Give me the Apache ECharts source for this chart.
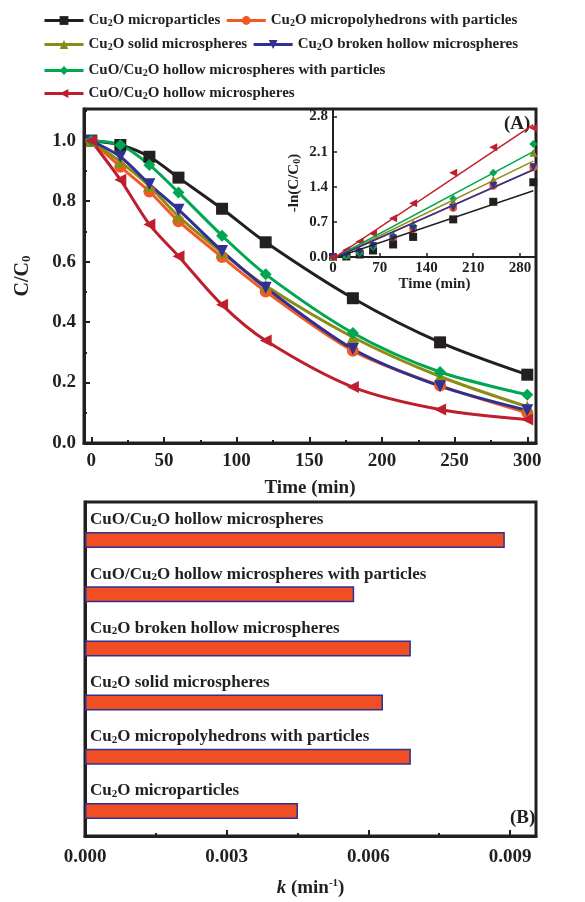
<!DOCTYPE html>
<html>
<head>
<meta charset="utf-8">
<script src="https://cdn.jsdelivr.net/npm/echarts@6/dist/echarts.min.js"></script>
<style>
  html, body { margin: 0; padding: 0; background: #fff; }
  #main { width: 585px; height: 902px; }
</style>
</head>
<body>
<div id="main"></div>
<script type="text/javascript">
// sampling times (min)
var times = [0, 20, 40, 60, 90, 120, 180, 240, 300];
var seriesNames = [
  'Cu2O microparticles',
  'Cu2O micropolyhedrons with particles',
  'Cu2O solid microspheres',
  'Cu2O broken hollow microspheres',
  'CuO/Cu2O hollow microspheres with particles',
  'CuO/Cu2O hollow microspheres'
];
// C/C0 curves
var ratioMicroparticles = [1.0, 0.986, 0.947, 0.878, 0.775, 0.664, 0.479, 0.333, 0.226];
var ratioPolyhedrons    = [1.0, 0.914, 0.832, 0.734, 0.615, 0.501, 0.305, 0.190, 0.100];
var ratioSolid          = [1.0, 0.930, 0.850, 0.750, 0.630, 0.520, 0.350, 0.220, 0.120];
var ratioBroken         = [1.0, 0.947, 0.856, 0.772, 0.635, 0.514, 0.311, 0.188, 0.108];
var ratioCuOParticles   = [1.0, 0.986, 0.920, 0.829, 0.686, 0.558, 0.364, 0.235, 0.160];
var ratioCuOHollow      = [1.0, 0.871, 0.723, 0.618, 0.457, 0.339, 0.185, 0.111, 0.078];
// inset: -ln(C/C0)
var lnMicroparticles = [0, 0.01, 0.05, 0.13, 0.25, 0.40, 0.75, 1.10, 1.49];
var lnPolyhedrons    = [0, 0.05, 0.10, 0.22, 0.37, 0.56, 0.98, 1.42, 1.79];
var lnSolid          = [0, 0.05, 0.13, 0.27, 0.46, 0.67, 1.10, 1.54, 2.08];
var lnBroken         = [0, 0.05, 0.10, 0.22, 0.37, 0.56, 0.98, 1.42, 1.79];
var lnCuOParticles   = [0, 0.02, 0.08, 0.20, 0.42, 0.62, 1.16, 1.68, 2.25];
var lnCuOHollow      = [0, 0.14, 0.31, 0.47, 0.77, 1.07, 1.68, 2.19, 2.57];
// linear fits, value at t=0 and t=300
var fitTimes = [0, 300];
var fitMicroparticles = [-0.03, 1.32];
var fitPolyhedrons    = [-0.03, 1.74];
var fitSolid          = [-0.03, 1.91];
var fitBroken         = [-0.03, 1.74];
var fitCuOParticles   = [-0.03, 2.10];
var fitCuOHollow      = [-0.03, 2.64];
// rate constants k (min-1), bottom to top
var kNames = [
  'Cu2O microparticles',
  'Cu2O micropolyhedrons with particles',
  'Cu2O solid microspheres',
  'Cu2O broken hollow microspheres',
  'CuO/Cu2O hollow microspheres with particles',
  'CuO/Cu2O hollow microspheres'
];
var kValues = [0.00451, 0.00690, 0.00631, 0.00690, 0.00570, 0.00889];

var FONT = "'Liberation Serif', 'Times New Roman', serif";
var INK = '#231f20';
var colors = ['#231f20', '#f15a24', '#8c8c14', '#2e3192', '#00a651', '#be1e2d'];
var symbols = ['rect', 'circle', 'triangle', 'triangle', 'diamond', 'triangle'];
var rotates = [0, 0, 0, 180, 0, 90];

function sub(name) {
  return name.replace('Cu2O', 'Cu{s|2}O');
}
function subStyle(size, pad) {
  return { fontSize: size, fontWeight: 'bold', fontFamily: FONT, color: INK, lineHeight: size, padding: [pad, 0, 0, 0], verticalAlign: 'bottom' };
}
function pairs(xs, ys) {
  return xs.map(function (x, i) { return [x, ys[i]]; });
}

var ratios = [ratioMicroparticles, ratioPolyhedrons, ratioSolid, ratioBroken, ratioCuOParticles, ratioCuOHollow];
var lns = [lnMicroparticles, lnPolyhedrons, lnSolid, lnBroken, lnCuOParticles, lnCuOHollow];
var fits = [fitMicroparticles, fitPolyhedrons, fitSolid, fitBroken, fitCuOParticles, fitCuOHollow];

var series = [];
seriesNames.forEach(function (n, i) {
  series.push({
    name: n, type: 'line', xAxisIndex: 0, yAxisIndex: 0,
    data: pairs(times, ratios[i]), smooth: 0.3,
    symbol: symbols[i], symbolSize: 12, symbolRotate: rotates[i],
    lineStyle: { width: 3, color: colors[i] }, itemStyle: { color: colors[i] }
  });
});
// inset: orange drawn first so it sits underneath
var insetOrder = [1, 0, 2, 4, 3, 5];
insetOrder.forEach(function (i) {
  series.push({
    name: seriesNames[i] + ' fit', type: 'line', xAxisIndex: 2, yAxisIndex: 1,
    data: pairs(fitTimes, fits[i]), showSymbol: false,
    lineStyle: { width: 1.5, color: colors[i] }, itemStyle: { color: colors[i] }
  });
  series.push({
    name: seriesNames[i] + ' ln', type: 'scatter', xAxisIndex: 2, yAxisIndex: 1,
    data: pairs(times, lns[i]), symbol: symbols[i], symbolSize: 8, symbolRotate: rotates[i],
    itemStyle: { color: colors[i], opacity: 1 }
  });
});
series.push({
  name: 'k', type: 'bar', xAxisIndex: 4, yAxisIndex: 3,
  data: kValues, barWidth: 16,
  itemStyle: { color: '#f04e23', borderColor: '#2e3192', borderWidth: 1.5 },
  label: {
    show: true, position: 'insideLeft', distance: 5, offset: [0, -20],
    formatter: function (p) { return sub(p.name); },
    fontFamily: FONT, fontWeight: 'bold', fontSize: 17, color: INK, lineHeight: 17,
    rich: { s: subStyle(11, 9) }
  }
});

var legendText = {
  fontFamily: FONT, fontWeight: 'bold', fontSize: 15, color: INK, lineHeight: 15,
  rich: { s: subStyle(10, 8) }
};
function legendRow(names, top) {
  return {
    data: names, left: 43, top: top, orient: 'horizontal', padding: 0,
    itemGap: 5, itemWidth: 39, itemHeight: 11, selectedMode: false,
    lineStyle: { width: 3 },
    formatter: sub, textStyle: legendText
  };
}

var labelFont = { fontFamily: FONT, fontWeight: 'bold', color: INK };
var bigLabel = Object.assign({ fontSize: 19 }, labelFont);
var smallLabel = Object.assign({ fontSize: 15 }, labelFont);

var option = {
  animation: false,
  backgroundColor: '#fff',
  legend: [
    legendRow([seriesNames[0], seriesNames[1]], 10),
    legendRow([seriesNames[2], seriesNames[3]], 34),
    legendRow([seriesNames[4]], 60),
    legendRow([seriesNames[5]], 83)
  ],
  grid: [
    { left: 84, right: 49, top: 109, bottom: 459, show: true, borderWidth: 3, borderColor: INK },
    { left: 333, right: 49, top: 109, bottom: 645 },
    { left: 85, right: 49, top: 502, bottom: 66, show: true, borderWidth: 3, borderColor: INK },
    { left: 85, right: 49, top: 513, bottom: 64 }
  ],
  xAxis: [
    { gridIndex: 0, type: 'value', min: -5, max: 306, position: 'bottom',
      axisLine: { onZero: false, lineStyle: { color: INK, width: 3 } },
      axisTick: { inside: true, length: 6, lineStyle: { width: 2, color: INK }, customValues: [0, 50, 100, 150, 200, 250, 300] },
      axisLabel: Object.assign({ margin: 9, customValues: [0, 50, 100, 150, 200, 250, 300] }, bigLabel),
      splitLine: { show: false },
      name: 'Time (min)', nameLocation: 'middle', nameGap: 36,
      nameTextStyle: Object.assign({ fontSize: 19 }, labelFont) },
    { gridIndex: 0, type: 'value', min: -5, max: 306, position: 'bottom',
      axisLine: { show: false, onZero: false },
      axisTick: { inside: true, length: 3, lineStyle: { width: 2, color: INK }, customValues: [25, 75, 125, 175, 225, 275] },
      axisLabel: { show: false }, splitLine: { show: false } },
    { gridIndex: 1, type: 'value', min: 0, max: 304, interval: 70, position: 'bottom',
      axisLine: { onZero: false, lineStyle: { color: INK, width: 2 } },
      axisTick: { inside: true, length: 4, lineStyle: { width: 1.5, color: INK } },
      axisLabel: Object.assign({ margin: 4, showMaxLabel: false }, smallLabel),
      splitLine: { show: false },
      name: 'Time (min)', nameLocation: 'middle', nameGap: 19,
      nameTextStyle: Object.assign({ fontSize: 15 }, labelFont) },
    { gridIndex: 2, type: 'value', min: 0, max: 0.00955, interval: 0.003, position: 'bottom',
      axisLine: { onZero: false, lineStyle: { color: INK, width: 3 } },
      axisTick: { inside: true, length: 6, lineStyle: { width: 2, color: INK } },
      minorTick: { show: true, splitNumber: 2, length: 3, lineStyle: { width: 2, color: INK } },
      axisLabel: Object.assign({ margin: 12, showMaxLabel: false, formatter: function (v) { return v.toFixed(3); } }, bigLabel),
      splitLine: { show: false },
      name: '{i|k} (min{p|-1})', nameLocation: 'middle', nameGap: 42,
      nameTextStyle: Object.assign({ fontSize: 19, lineHeight: 20, rich: {
        i: { fontFamily: FONT, fontWeight: 'bold', fontStyle: 'italic', fontSize: 19, color: INK, lineHeight: 20 },
        p: { fontFamily: FONT, fontWeight: 'bold', fontSize: 11, color: INK, lineHeight: 11, verticalAlign: 'top' }
      } }, labelFont) },
    { gridIndex: 3, type: 'value', min: 0, max: 0.00955, show: false }
  ],
  yAxis: [
    { gridIndex: 0, type: 'value', min: 0, max: 1.105, interval: 0.2,
      axisLine: { show: true, onZero: false, lineStyle: { color: INK, width: 3 } },
      axisTick: { show: true, inside: true, length: 6, lineStyle: { width: 2, color: INK } },
      minorTick: { show: true, splitNumber: 2, length: 3, lineStyle: { width: 2, color: INK } },
      axisLabel: Object.assign({ margin: 8, showMaxLabel: false, formatter: function (v) { return v.toFixed(1); } }, bigLabel),
      splitLine: { show: false },
      name: 'C/C{s|0}', nameLocation: 'middle', nameGap: 51,
      nameTextStyle: Object.assign({ fontSize: 20, lineHeight: 20, rich: { s: subStyle(13, 9) } }, labelFont) },
    { gridIndex: 1, type: 'value', min: 0, max: 2.95, interval: 0.7,
      axisLine: { show: true, onZero: false, lineStyle: { color: INK, width: 2 } },
      axisTick: { show: true, inside: true, length: 4, lineStyle: { width: 1.5, color: INK } },
      axisLabel: Object.assign({ margin: 5, showMaxLabel: false, formatter: function (v) { return v.toFixed(1); } }, smallLabel),
      splitLine: { show: false },
      name: '-ln(C/C{s|0})', nameLocation: 'middle', nameGap: 31,
      nameTextStyle: Object.assign({ fontSize: 15, lineHeight: 15, rich: { s: subStyle(10, 7) } }, labelFont) },
    { gridIndex: 2, type: 'value', min: 0, max: 1,
      axisLine: { show: true, onZero: false, lineStyle: { color: INK, width: 3 } },
      axisTick: { show: false }, axisLabel: { show: false }, splitLine: { show: false } },
    { gridIndex: 3, type: 'category', data: kNames, show: false }
  ],
  graphic: [
    { type: 'text', left: 504, top: 115, style: { text: '(A)', font: 'bold 19px ' + FONT, fill: INK } },
    { type: 'text', left: 510, top: 809, style: { text: '(B)', font: 'bold 19px ' + FONT, fill: INK } }
  ],
  series: series
};

var myChart = echarts.init(document.getElementById('main'));
myChart.setOption(option);
</script>
</body>
</html>
